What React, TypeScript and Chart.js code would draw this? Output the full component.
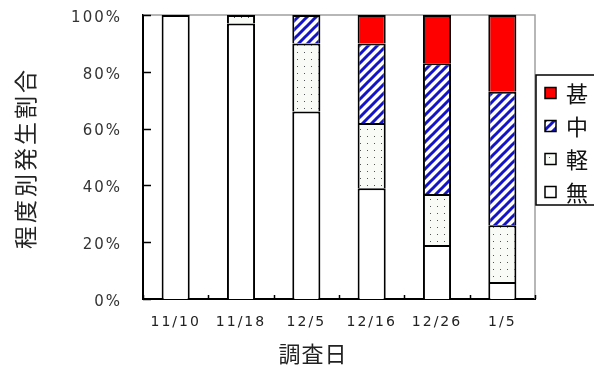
import { useEffect, useRef } from "react";
import { Chart, registerables } from "chart.js";

Chart.register(...registerables);

const categories = ["11/10", "11/18", "12/5", "12/16", "12/26", "1/5"];
const seriesLabels = ["無", "軽", "中", "甚"];
const noneValues = [100, 97, 66, 39, 19, 6];
const lightValues = [0, 3, 24, 23, 18, 20];
const mediumValues = [0, 0, 10, 28, 46, 47];
const severeValues = [0, 0, 0, 10, 17, 27];
const yTicks = [0, 20, 40, 60, 80, 100];
const xTitle = "調査日";
const yTitle = "程度別発生割合";

function makeStripe(): CanvasPattern | string {
  const s = 9;
  const c = document.createElement("canvas");
  c.width = s;
  c.height = s;
  const g = c.getContext("2d");
  if (!g) return "#1a1ac8";
  g.fillStyle = "#ffffff";
  g.fillRect(0, 0, s, s);
  g.strokeStyle = "#1414c4";
  g.lineWidth = 3;
  g.beginPath();
  g.moveTo(0, s);
  g.lineTo(s, 0);
  g.moveTo(-2, 2);
  g.lineTo(2, -2);
  g.moveTo(s - 2, s + 2);
  g.lineTo(s + 2, s - 2);
  g.stroke();
  return g.createPattern(c, "repeat") || "#1a1ac8";
}

function makeDots(): CanvasPattern | string {
  const s = 7;
  const c = document.createElement("canvas");
  c.width = s;
  c.height = s;
  const g = c.getContext("2d");
  if (!g) return "#f8fbf5";
  g.fillStyle = "#f9fcf6";
  g.fillRect(0, 0, s, s);
  g.fillStyle = "#555555";
  g.fillRect(3, 3, 1, 1);
  return g.createPattern(c, "repeat") || "#f8fbf5";
}

export default function App() {
  const ref = useRef<HTMLCanvasElement | null>(null);

  useEffect(() => {
    document.body.style.margin = "0";
    const canvas = ref.current;
    if (!canvas) return;
    const stripe = makeStripe();
    const dots = makeDots();
    const fills = ["#ffffff", dots, stripe, "#ff0000"];
    const values = [noneValues, lightValues, mediumValues, severeValues];

    const deco = {
      id: "deco",
      beforeDraw(chart: any) {
        (chart.ctx as any).letterSpacing = "2px";
      },
      beforeDatasetsDraw(chart: any) {
        const { ctx, chartArea } = chart;
        ctx.save();
        ctx.strokeStyle = "#a0a0a0";
        ctx.lineWidth = 1.5;
        ctx.beginPath();
        ctx.moveTo(chartArea.left, chartArea.top);
        ctx.lineTo(chartArea.right, chartArea.top);
        ctx.lineTo(chartArea.right, chartArea.bottom);
        ctx.stroke();
        ctx.restore();
      },
      afterDraw(chart: any) {
        const { ctx, chartArea, scales } = chart;
        const x = scales.x;
        const y = scales.y;
        ctx.save();
        (ctx as any).letterSpacing = "0px";
        ctx.strokeStyle = "#000";
        ctx.lineWidth = 1.5;
        ctx.beginPath();
        for (const v of yTicks) {
          const py = Math.round(y.getPixelForValue(v)) + 0.5;
          ctx.moveTo(chartArea.left, py);
          ctx.lineTo(chartArea.left + 8, py);
        }
        ctx.stroke();
        ctx.beginPath();
        const step = x.getPixelForValue(1) - x.getPixelForValue(0);
        for (let i = 0; i <= categories.length; i++) {
          const px = Math.round(x.getPixelForValue(i) - step / 2) + 0.5;
          ctx.moveTo(px, chartArea.bottom);
          ctx.lineTo(px, chartArea.bottom - 4);
        }
        ctx.stroke();

        const lx = 536;
        const ly = 75;
        const lh = 130;
        ctx.strokeStyle = "#000";
        ctx.lineWidth = 1.5;
        ctx.fillStyle = "#fff";
        ctx.fillRect(lx, ly, 80, lh);
        ctx.strokeRect(lx, ly, 80, lh);
        ctx.font = '22px "Noto Sans CJK JP"';
        ctx.textBaseline = "middle";
        ctx.textAlign = "left";
        const ds = chart.data.datasets;
        for (let k = 0; k < ds.length; k++) {
          const idx = ds.length - 1 - k;
          const cy = 93 + k * 33;
          ctx.fillStyle = ds[idx].backgroundColor;
          ctx.fillRect(545, cy - 5.5, 11, 11);
          ctx.lineWidth = 1.5;
          ctx.strokeStyle = "#000";
          ctx.strokeRect(545, cy - 5.5, 11, 11);
          ctx.fillStyle = "#111";
          ctx.fillText(ds[idx].label, 566, cy + 1);
        }

        ctx.fillStyle = "#222";
        ctx.font = '22px "Noto Sans CJK JP"';
        ctx.textAlign = "center";
        ctx.textBaseline = "middle";
        (ctx as any).letterSpacing = "1px";
        ctx.fillText(xTitle, 313, 354);
        ctx.save();
        ctx.translate(25, 158);
        ctx.rotate(-Math.PI / 2);
        (ctx as any).letterSpacing = "3px";
        ctx.font = '23px "Noto Sans CJK JP"';
        ctx.fillText(yTitle, 0, 0);
        ctx.restore();
        ctx.restore();
      },
    };

    const chart = new Chart(canvas, {
      type: "bar",
      data: {
        labels: categories,
        datasets: seriesLabels.map((label, i) => ({
          label,
          data: values[i],
          backgroundColor: fills[i] as any,
          borderColor: "#000000",
          borderWidth: 2,
          borderSkipped: "start" as const,
          barPercentage: 0.43,
          categoryPercentage: 1,
        })),
      },
      options: {
        animation: false,
        responsive: false,
        maintainAspectRatio: false,
        layout: { padding: { top: 15, right: 59, bottom: 0, left: 0 } },
        plugins: {
          legend: { display: false },
          tooltip: { enabled: false },
          title: { display: false },
        },
        scales: {
          x: {
            stacked: true,
            grid: { display: false, drawTicks: false },
            border: { display: true, color: "#000", width: 2 },
            ticks: {
              color: "#222",
              font: { family: "DejaVu Sans", size: 14 },
              padding: 15,
              maxRotation: 0,
              autoSkip: false,
            },
            afterFit: (axis: any) => {
              axis.height = 72;
              axis.paddingLeft = 0;
              axis.paddingRight = 0;
            },
          },
          y: {
            stacked: true,
            min: 0,
            max: 100,
            grid: { display: false, drawTicks: false },
            border: { display: true, color: "#000", width: 2 },
            ticks: {
              stepSize: 20,
              color: "#333",
              font: { family: "DejaVu Sans", size: 15 },
              padding: 21,
              labelOffset: 3,
              callback: (v: any) => v + "%",
            },
            afterFit: (axis: any) => {
              axis.width = 143;
              axis.paddingTop = 0;
              axis.paddingBottom = 0;
            },
          },
        },
      },
      plugins: [deco],
    });
    return () => chart.destroy();
  }, []);

  return <canvas ref={ref} width={594} height={371} style={{ display: "block" }} />;
}
